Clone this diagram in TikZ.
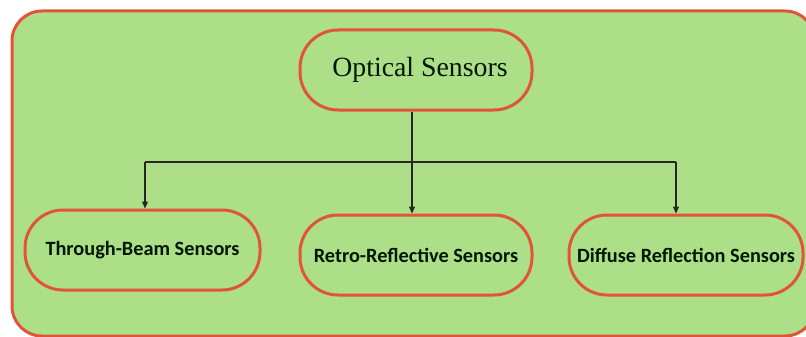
\documentclass[tikz,border=0pt]{standalone}
\usepackage{fontspec}
\setmainfont{Liberation Serif}
\newfontfamily\labelfont{Carlito}
\usetikzlibrary{arrows.meta,positioning}
\definecolor{panelgreen}{RGB}{173,222,136}
\definecolor{rimred}{RGB}{226,84,58}
\tikzset{
  panel/.style={draw=rimred, fill=panelgreen, line width=3pt, rounded corners=30pt},
  pill/.style={draw=rimred, fill=panelgreen, line width=3pt, rounded corners=38pt,
    minimum width=232pt, minimum height=80pt, inner sep=0pt, text=black!85!green!60!black},
  rootlabel/.style={font=\fontsize{27.8}{30}\selectfont},
  leaflabel/.style={font=\labelfont\bfseries\fontsize{20.3}{23}\selectfont},
  link/.style={draw=black!85, line width=1.2pt},
  feed/.style={link, -{Triangle[length=7pt,width=6pt]}}
}
\begin{document}
\begin{tikzpicture}[x=1pt,y=-1pt]
  \useasboundingbox (0,0) rectangle (806,337);
  \begin{scope}
    \clip (0,0) rectangle (806,337);
    \draw[panel] (12,11) rectangle (815,336);
  \end{scope}

  % category nodes
  \node[pill, rootlabel] (root) at (416,70) {\hspace*{8pt}Optical Sensors};
  \node[pill, leaflabel, minimum width=235pt] (beam) at (142.5,250) {Through-Beam Sensors};
  \node[pill, leaflabel] (retro) at (416,255) {Retro-Reflective Sensors};
  \node[pill, leaflabel, minimum width=234pt] (diffuse) at (686,255) {Diffuse Reflection Sensors};

  % branching connectors
  \coordinate (fork) at (412,162);
  \coordinate (lefthook) at (145,162);
  \coordinate (righthook) at (676,162);
  \draw[link] (lefthook) -- (righthook);
  \draw[feed] (root.south -| fork) -- (fork |- retro.north);
  \draw[feed] (lefthook) -- (lefthook |- beam.north);
  \draw[feed] (righthook) -- (righthook |- diffuse.north);
\end{tikzpicture}
\end{document}
